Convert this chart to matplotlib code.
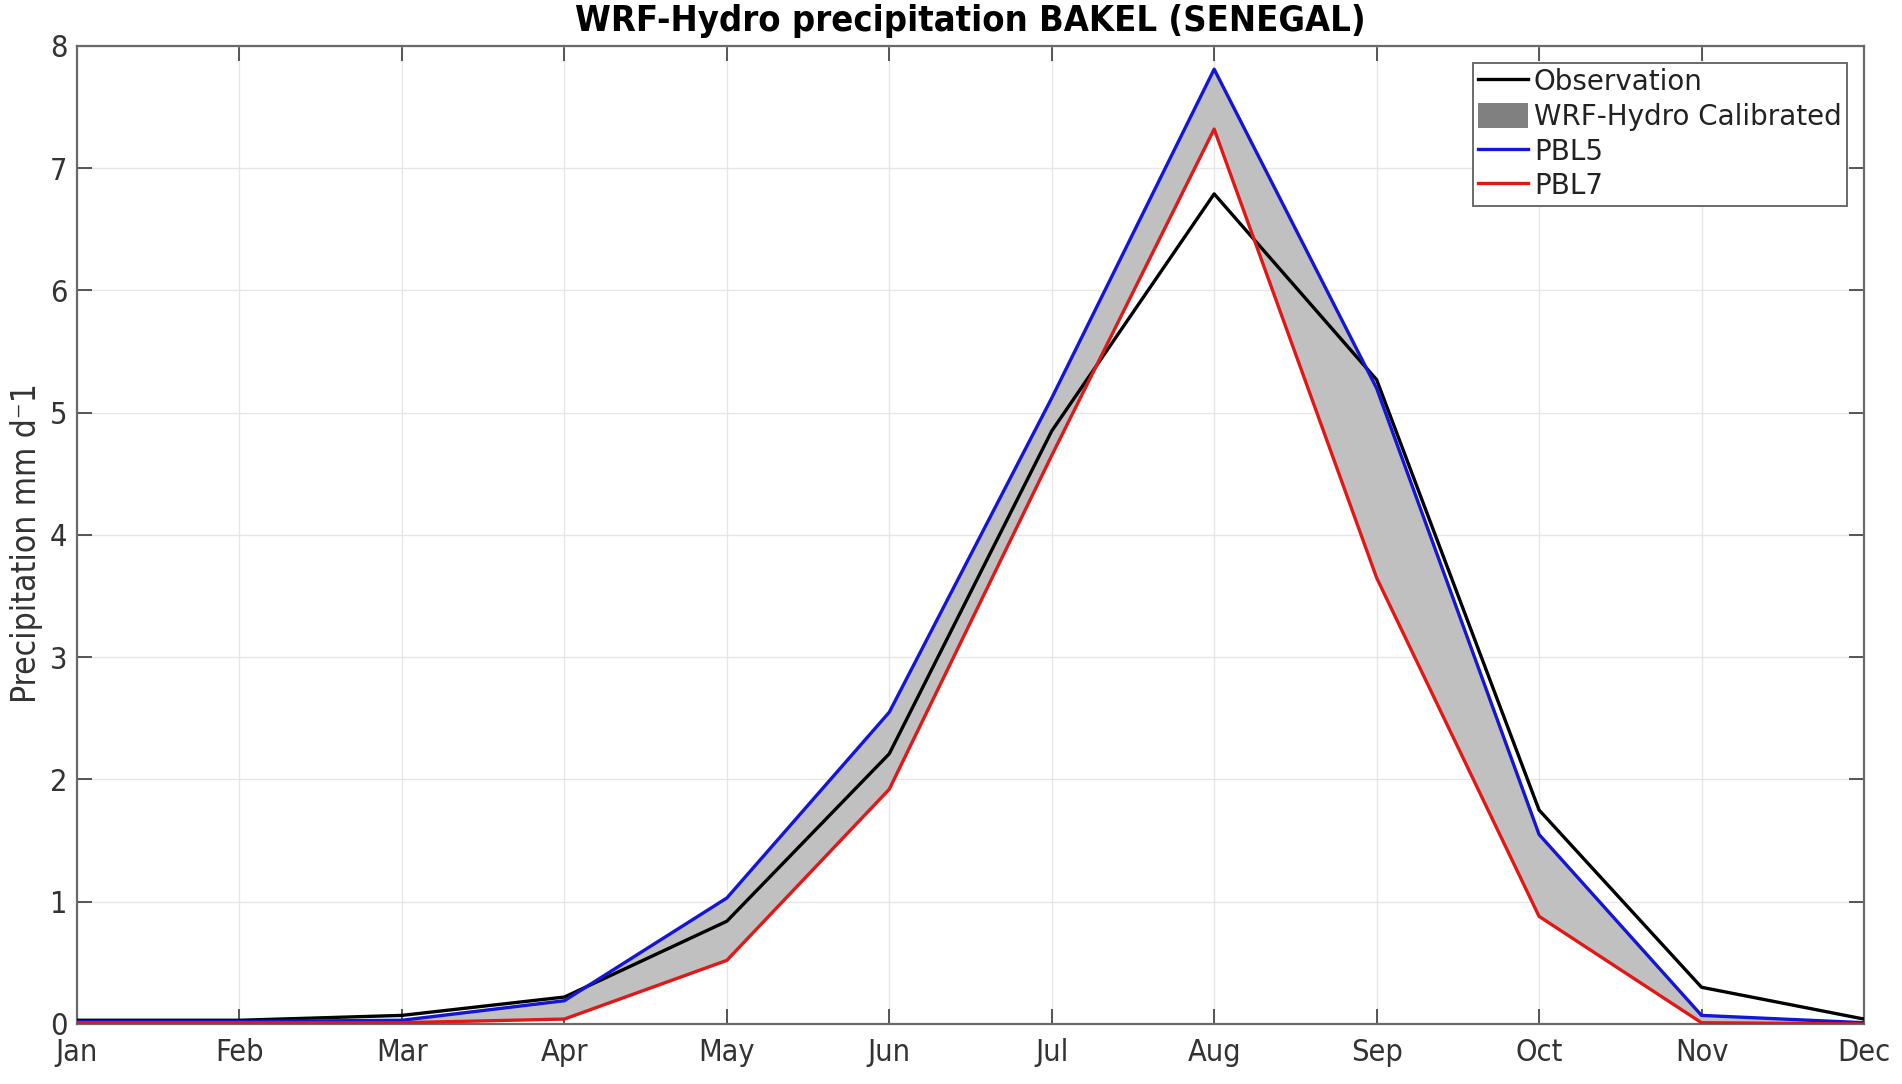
import os
import matplotlib
matplotlib.use("Agg")
import matplotlib.pyplot as plt
from matplotlib import font_manager as fm
from matplotlib.patches import Patch
from matplotlib.lines import Line2D

months = ["Jan", "Feb", "Mar", "Apr", "May", "Jun",
          "Jul", "Aug", "Sep", "Oct", "Nov", "Dec"]
obs = [0.03, 0.03, 0.07, 0.22, 0.84, 2.21, 4.85, 6.79, 5.27, 1.75, 0.30, 0.04]
pbl5 = [0.02, 0.02, 0.03, 0.19, 1.03, 2.55, 5.12, 7.81, 5.20, 1.55, 0.07, 0.01]
pbl7 = [0.01, 0.01, 0.01, 0.04, 0.52, 1.92, 4.65, 7.32, 3.65, 0.88, 0.01, 0.00]
yticks = [0, 1, 2, 3, 4, 5, 6, 7, 8]


def find_font(*names):
    for f in fm.fontManager.ttflist:
        if os.path.basename(f.fname) in names:
            return f.fname
    return None


# narrow font for ticks / title / ylabel (reference text is condensed)
reg = find_font("DejaVuSansCondensed.ttf", "LiberationSansNarrow-Regular.ttf")
bold = find_font("DejaVuSansCondensed-Bold.ttf", "LiberationSansNarrow-Bold.ttf")
if reg:
    fp_tick = fm.FontProperties(fname=reg, size=22)
    fp_ylab = fm.FontProperties(fname=reg, size=24)
else:
    fp_tick = fm.FontProperties(family="DejaVu Sans", size=19)
    fp_ylab = fm.FontProperties(family="DejaVu Sans", size=21)
if bold:
    fp_title = fm.FontProperties(fname=bold, size=26)
else:
    fp_title = fm.FontProperties(family="DejaVu Sans", weight="bold", size=22)

x = list(range(1, 13))
lo = [min(a, b) for a, b in zip(pbl5, pbl7)]
hi = [max(a, b) for a, b in zip(pbl5, pbl7)]

fig = plt.figure(figsize=(19.02, 10.84), dpi=100)
ax = fig.add_axes([0.0405, 0.0554, 0.9395, 0.9022])

ax.fill_between(x, lo, hi, color="#c0c0c0", linewidth=0, zorder=2)
ax.plot(x, obs, color="black", lw=2.4, zorder=3)
ax.plot(x, pbl5, color="#1515d8", lw=2.4, zorder=3)
ax.plot(x, pbl7, color="#e01818", lw=2.4, zorder=3)

ax.set_xlim(1, 12)
ax.set_ylim(0, 8)
ax.set_xticks(x)
ax.set_xticklabels(months)
ax.set_yticks(yticks)
ax.grid(True, color="#e6e6e6", lw=1.0, zorder=0)
ax.set_axisbelow(True)

ax.tick_params(direction="in", length=11, width=1.4, color="#555555",
               labelcolor="#333333", top=True, right=True)
ax.tick_params(axis="x", pad=10)
ax.tick_params(axis="y", pad=7)
for lab in ax.get_xticklabels() + ax.get_yticklabels():
    lab.set_fontproperties(fp_tick)
for s in ax.spines.values():
    s.set_color("#6a6a6a")
    s.set_linewidth(1.6)

ax.set_ylabel("Precipitation mm d\u207b1", fontproperties=fp_ylab,
              color="#333333")
ax.yaxis.set_label_coords(-0.019, 0.492)
ax.set_title("WRF-Hydro precipitation BAKEL (SENEGAL)",
             fontproperties=fp_title, color="black", pad=11)

handles = [
    Line2D([], [], color="black", lw=2.4),
    Patch(facecolor="#808080", edgecolor="none"),
    Line2D([], [], color="#1515d8", lw=2.4),
    Line2D([], [], color="#e01818", lw=2.4),
]
labels = ["Observation", "WRF-Hydro Calibrated", "PBL5", "PBL7"]
leg = ax.legend(handles, labels, loc="upper right", fancybox=False,
                framealpha=1, edgecolor="#6a6a6a",
                prop=fm.FontProperties(family="DejaVu Sans", size=20),
                handlelength=1.8, handleheight=1.0, handletextpad=0.2,
                labelspacing=0.24, borderpad=0.2, borderaxespad=0.6)
leg.get_frame().set_linewidth(1.4)
for t in leg.get_texts():
    t.set_color("#222222")

fig.savefig("out.png", dpi=100)
